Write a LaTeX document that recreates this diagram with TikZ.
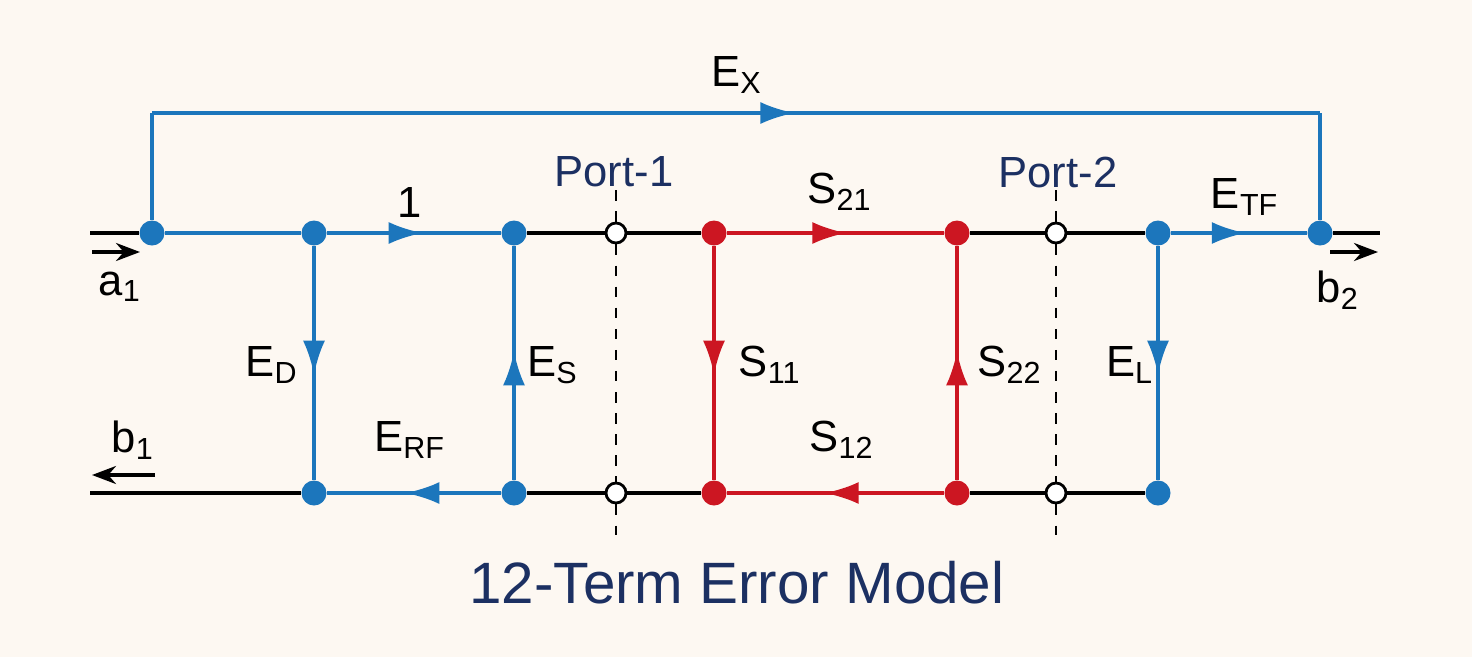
\documentclass[tikz,border=0pt]{standalone}
\usepackage{fontspec}
\setmainfont{Liberation Sans}
\usetikzlibrary{decorations.markings,arrows.meta}
\definecolor{bg}{RGB}{253,248,242}
\definecolor{blu}{RGB}{28,118,188}
\definecolor{rd}{RGB}{204,22,34}
\definecolor{navy}{RGB}{28,48,98}
\tikzset{
  dot/.style={circle,fill=#1,inner sep=0pt,minimum size=0.25cm},
  hollow/.style={circle,draw=black,fill=white,line width=0.8pt,inner sep=0pt,minimum size=0.2cm},
  flow/.style={line width=1pt,draw=#1,postaction={decorate},decoration={markings,
    mark=at position 0.55 with {\arrow[#1]{Latex[length=0.34cm,width=0.22cm]}}}},
  lab/.style={font=\fontsize{12.4pt}{14pt}\selectfont},
  wire/.style={line width=1pt},
  wave/.style={-{Stealth[length=0.24cm,width=0.18cm]},line width=1pt},
}
\begin{document}
\begin{tikzpicture}
\useasboundingbox[fill=bg] (0,0) rectangle (14.72,6.57);
% nodes on the top and bottom rails
\node[dot=blu] (a) at (1.52,4.24) {};
\node[dot=blu] (t1) at (3.14,4.24) {};
\node[dot=blu] (t2) at (5.14,4.24) {};
\node[hollow] (p1t) at (6.16,4.24) {};
\node[dot=rd] (t3) at (7.14,4.24) {};
\node[dot=rd] (t4) at (9.57,4.24) {};
\node[hollow] (p2t) at (10.56,4.24) {};
\node[dot=blu] (t5) at (11.58,4.24) {};
\node[dot=blu] (t6) at (13.20,4.24) {};
\node[dot=blu] (b1n) at (3.14,1.64) {};
\node[dot=blu] (b2n) at (5.14,1.64) {};
\node[hollow] (p1b) at (6.16,1.64) {};
\node[dot=rd] (b3) at (7.14,1.64) {};
\node[dot=rd] (b4) at (9.57,1.64) {};
\node[hollow] (p2b) at (10.56,1.64) {};
\node[dot=blu] (b5) at (11.58,1.64) {};
\coordinate (inl) at (0.90,4.24);
\coordinate (outr) at (13.80,4.24);
\coordinate (outl) at (0.90,1.64);
\coordinate (xa) at (1.52,5.44);
\coordinate (xb) at (13.20,5.44);
% reference planes
\draw[dashed,line width=0.6pt] (6.16,4.67) -- (p1t) -- (p1b) -- (6.16,1.22);
\draw[dashed,line width=0.6pt] (10.56,4.67) -- (p2t) -- (p2b) -- (10.56,1.22);
% black lines
\draw[wire] (inl) -- (a);
\draw[wire] (t6) -- (outr);
\draw[wire] (t2) -- (p1t) -- (t3);
\draw[wire] (t4) -- (p2t) -- (t5);
\draw[wire] (outl) -- (b1n);
\draw[wire] (b2n) -- (p1b) -- (b3);
\draw[wire] (b4) -- (p2b) -- (b5);
% error terms
\draw[wire,blu] (a) -- (t1);
\draw[flow=blu] (t1) -- (t2);
\draw[flow=blu] (t5) -- (t6);
\draw[flow=blu] (t1) -- (b1n);
\draw[flow=blu] (b2n) -- (t2);
\draw[flow=blu] (t5) -- (b5);
\draw[flow=blu] (b2n) -- (b1n);
\draw[wire,blu] (a) -- (xa);
\draw[flow=blu] (xa) -- (xb);
\draw[wire,blu] (xb) -- (t6);
% DUT
\draw[flow=rd] (t3) -- (t4);
\draw[flow=rd] (t3) -- (b3);
\draw[flow=rd] (b4) -- (t4);
\draw[flow=rd] (b4) -- (b3);
% waves
\draw[wave] (0.92,4.05) -- (1.40,4.05);
\draw[wave] (13.30,4.05) -- (13.78,4.05);
\draw[wave] (1.55,1.82) -- (0.92,1.82);
% labels
\node[lab] at (7.37,5.82) {E\textsubscript{X}};
\node[lab] at (4.10,4.55) {1};
\node[lab,navy] at (6.14,4.85) {Port-1};
\node[lab] at (8.40,4.65) {S\textsubscript{21}};
\node[lab,navy] at (10.58,4.85) {Port-2};
\node[lab] at (12.45,4.60) {E\textsubscript{TF}};
\node[lab] at (1.20,3.70) {a\textsubscript{1}};
\node[lab] at (13.38,3.67) {b\textsubscript{2}};
\node[lab] at (2.72,2.92) {E\textsubscript{D}};
\node[lab] at (5.53,2.92) {E\textsubscript{S}};
\node[lab] at (7.70,2.92) {S\textsubscript{11}};
\node[lab] at (10.10,2.92) {S\textsubscript{22}};
\node[lab] at (11.30,2.92) {E\textsubscript{L}};
\node[lab] at (1.33,2.17) {b\textsubscript{1}};
\node[lab] at (4.10,2.17) {E\textsubscript{RF}};
\node[lab] at (8.42,2.17) {S\textsubscript{12}};
\node[navy,font=\fontsize{16.6pt}{19pt}\selectfont] at (7.37,0.74) {12-Term Error Model};
\end{tikzpicture}
\end{document}
